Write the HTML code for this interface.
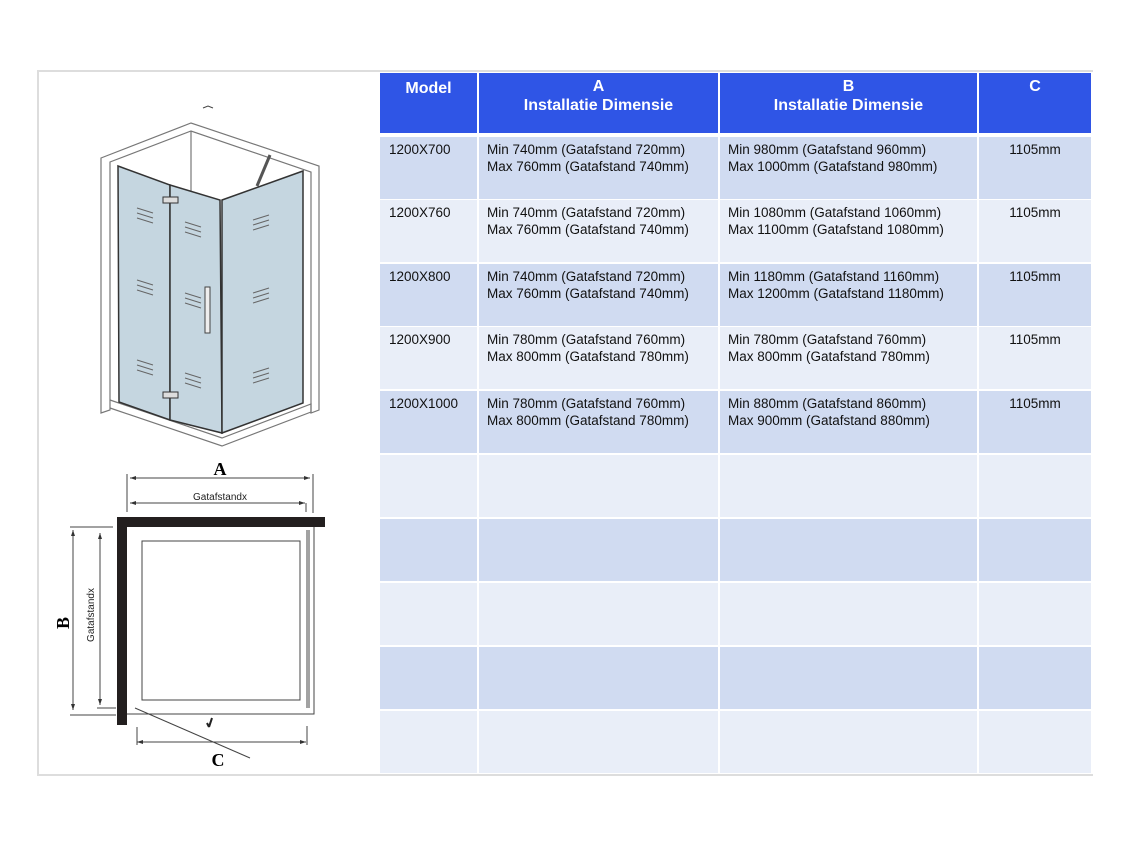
<!DOCTYPE html>
<html><head><meta charset="utf-8"><style>
body{margin:0;width:1130px;height:847px;background:#fff;position:relative;overflow:hidden;font-family:"Liberation Sans",sans-serif}
.a{position:absolute}
.h{position:absolute;top:73px;height:60px;background:#2f55e6;color:#fff;font-weight:bold;font-size:16px;text-align:center;line-height:19px;padding-top:4px;box-sizing:border-box}
.c{position:absolute;height:62px;font-size:13.5px;line-height:17px;color:#111;padding-top:4px;box-sizing:border-box;padding-left:8px;white-space:nowrap}
.d{background:#d0dbf1}.l{background:#e9eef8}
</style></head><body>
<div class="a" style="left:37px;top:70px;width:1056px;height:2px;background:#ddd"></div>
<div class="a" style="left:37px;top:70px;width:2px;height:706px;background:#ddd"></div>
<div class="a" style="left:37px;top:774px;width:1056px;height:2px;background:#ddd"></div>

<div class="h" style="left:380px;width:97px;padding-top:6px">Model</div>
<div class="h" style="left:479px;width:239px">A<br>Installatie Dimensie</div>
<div class="h" style="left:720px;width:257px">B<br>Installatie Dimensie</div>
<div class="h" style="left:979px;width:112px">C</div>

<div id="t"></div>
<script>
var rows=[["1200X700","Min 740mm (Gatafstand 720mm)<br>Max 760mm (Gatafstand 740mm)","Min 980mm (Gatafstand 960mm)<br>Max 1000mm (Gatafstand 980mm)","1105mm"],
["1200X760","Min 740mm (Gatafstand 720mm)<br>Max 760mm (Gatafstand 740mm)","Min 1080mm (Gatafstand 1060mm)<br>Max 1100mm (Gatafstand 1080mm)","1105mm"],
["1200X800","Min 740mm (Gatafstand 720mm)<br>Max 760mm (Gatafstand 740mm)","Min 1180mm (Gatafstand 1160mm)<br>Max 1200mm (Gatafstand 1180mm)","1105mm"],
["1200X900","Min 780mm (Gatafstand 760mm)<br>Max 800mm (Gatafstand 780mm)","Min 780mm (Gatafstand 760mm)<br>Max 800mm (Gatafstand 780mm)","1105mm"],
["1200X1000","Min 780mm (Gatafstand 760mm)<br>Max 800mm (Gatafstand 780mm)","Min 880mm (Gatafstand 860mm)<br>Max 900mm (Gatafstand 880mm)","1105mm"],
["","","",""],["","","",""],["","","",""],["","","",""],["","","",""]];
var tops=[137,200,264,327,391,455,519,583,647,711];
var cols=[[380,97],[479,239],[720,257],[979,112]];
var h="";
rows.forEach(function(r,i){var cl=i%2?"l":"d";cols.forEach(function(c,j){
h+='<div class="c '+cl+'" style="left:'+c[0]+'px;top:'+tops[i]+'px;width:'+c[1]+'px;'+(j==3?'text-align:center;padding-left:0;':'')+(j==0?'padding-left:9px;':'')+'">'+r[j]+'</div>';});});
document.getElementById("t").innerHTML=h;
</script>

<svg class="a" style="left:0;top:0" width="380" height="847">
<g fill="none" stroke="#777" stroke-width="1.2">
<path d="M101,158 L191,123 L319,166 L319,410 L311,413 L311,172 L191,131 L110,162 L110,410 L101,413 Z" fill="#fff"/>
<line x1="191" y1="131" x2="191" y2="196"/>
<path d="M110,400 L222,438 L311,404 L311,412 L222,446 L110,408"/>
</g>
<path d="M118,166 L170,185 L170,420 L119,402 Z" fill="#c5d6e0" stroke="#333" stroke-width="1.5"/>
<path d="M170,185 L220,200 L222,433 L170,420 Z" fill="#c5d6e0" stroke="#333" stroke-width="1.5"/>
<path d="M222,200 L303,171 L303,403 L222,433 Z" fill="#c5d6e0" stroke="#333" stroke-width="1.5"/>
<line x1="270" y1="155" x2="257" y2="186" stroke="#555" stroke-width="3"/>
<rect x="163" y="197" width="15" height="6" fill="#ddd" stroke="#333"/>
<rect x="163" y="392" width="15" height="6" fill="#ddd" stroke="#333"/>
<rect x="205" y="287" width="5" height="46" fill="#eee" stroke="#444"/>
<g stroke="#666" stroke-width="1">
<path d="M137,208l16,5M137,213l16,5M137,218l16,5 M137,280l16,5M137,285l16,5M137,290l16,5 M137,360l16,5M137,365l16,5M137,370l16,5 M185,222l16,5M185,227l16,5M185,232l16,5 M185,293l16,5M185,298l16,5M185,303l16,5 M185,373l16,5M185,378l16,5M185,383l16,5 M253,220l16,-5M253,225l16,-5M253,230l16,-5 M253,293l16,-5M253,298l16,-5M253,303l16,-5 M253,373l16,-5M253,378l16,-5M253,383l16,-5"/>
</g>
<path d="M203,108 l5,-2 l5,2" stroke="#444" fill="none"/>

<text x="220" y="475" font-family="Liberation Serif" font-weight="bold" font-size="18" text-anchor="middle">A</text>
<g stroke="#444" stroke-width="1" fill="none">
<line x1="127" y1="474" x2="127" y2="512"/><line x1="313" y1="474" x2="313" y2="513"/>
<line x1="130" y1="478" x2="310" y2="478"/><line x1="130" y1="503" x2="305" y2="503"/>
<line x1="306" y1="503" x2="306" y2="512"/>
<line x1="70" y1="527" x2="113" y2="527"/><line x1="70" y1="715" x2="116" y2="715"/>
<line x1="73" y1="530" x2="73" y2="710"/><line x1="100" y1="533" x2="100" y2="705"/>
<line x1="97" y1="708" x2="116" y2="708"/>
<line x1="137" y1="742" x2="306" y2="742"/><line x1="137" y1="727" x2="137" y2="745"/><line x1="307" y1="726" x2="307" y2="745"/>
<rect x="142" y="541" width="158" height="159"/>
<path d="M127,714 L314,714 L314,527"/>
<line x1="307" y1="530" x2="307" y2="708"/><line x1="309" y1="530" x2="309" y2="708"/>
<line x1="135" y1="708" x2="250" y2="758"/>
</g>
<g fill="#333"><path d="M130,478l6,-2v4z M310,478l-6,-2v4z M130,503l6,-2v4z M305,503l-6,-2v4z M73,530l-2,6h4z M73,710l-2,-6h4z M100,533l-2,6h4z M100,705l-2,-6h4z M137,742l6,-2v4z M306,742l-6,-2v4z"/></g>
<text x="220" y="500" font-size="10" text-anchor="middle" fill="#222">Gatafstandx</text>
<text transform="translate(94,615) rotate(-90)" font-size="10" text-anchor="middle" fill="#222">Gatafstandx</text>
<text transform="translate(69,623) rotate(-90)" font-family="Liberation Serif" font-weight="bold" font-size="18" text-anchor="middle">B</text>
<text x="218" y="766" font-family="Liberation Serif" font-weight="bold" font-size="18" text-anchor="middle">C</text>
<rect x="117" y="517" width="208" height="10" fill="#231f1f"/>
<rect x="117" y="517" width="10" height="208" fill="#231f1f"/>
<path d="M212,718 l-3,9 M209,727 l-2,-4" stroke="#222" stroke-width="2"/>
</svg>
</body></html>
